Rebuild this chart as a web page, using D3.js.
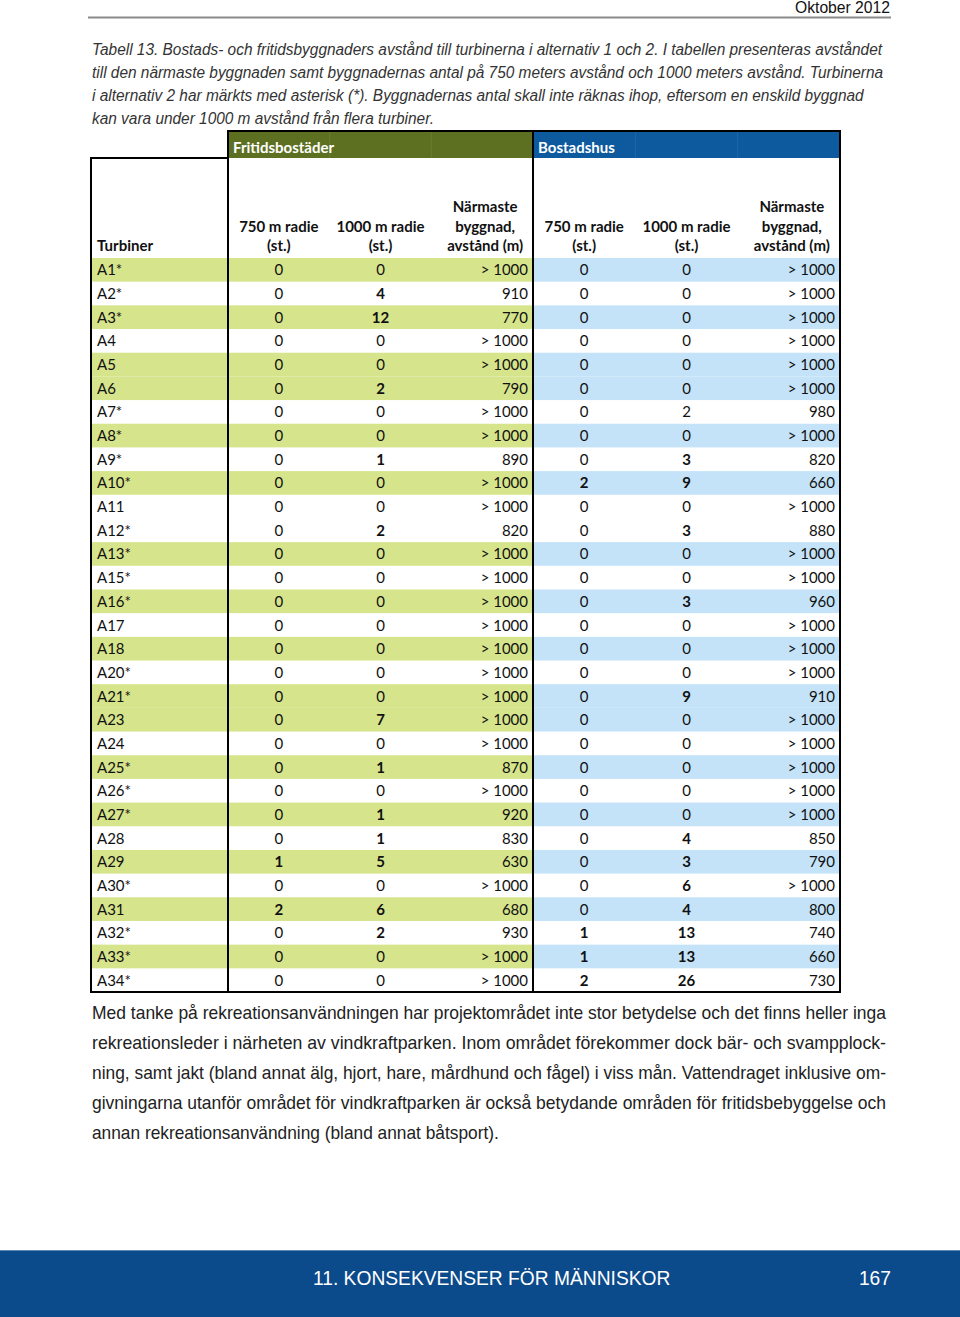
<!DOCTYPE html>
<html>
<head>
<meta charset="utf-8">
<script src="https://cdn.jsdelivr.net/npm/d3@7"></script>
<style>
  html, body { margin: 0; padding: 0; background: #fff; }
  svg { display: block; }
</style>
</head>
<body>
<div id="page"></div>
<script>
/* Tabell 13 – byggnaders avstånd till turbinerna */

var turbines = ['A1*', 'A2*', 'A3*', 'A4', 'A5', 'A6', 'A7*', 'A8*', 'A9*', 'A10*',
  'A11', 'A12*', 'A13*', 'A15*', 'A16*', 'A17', 'A18', 'A20*', 'A21*', 'A23',
  'A24', 'A25*', 'A26*', 'A27*', 'A28', 'A29', 'A30*', 'A31', 'A32*', 'A33*', 'A34*'];

// rows shaded green/blue in the original
var shaded = [1, 0, 1, 0, 1, 1, 0, 1, 0, 1, 0, 0, 1, 0, 1, 0, 1, 0, 1, 1, 0, 1, 0, 1, 0, 1, 0, 1, 0, 1, 0];

var GT = '> 1000';
var fri750 = [0, 0, 0, 0, 0, 0, 0, 0, 0, 0, 0, 0, 0, 0, 0, 0, 0, 0, 0, 0, 0, 0, 0, 0, 0, 1, 0, 2, 0, 0, 0];
var fri1000 = [0, 4, 12, 0, 0, 2, 0, 0, 1, 0, 0, 2, 0, 0, 0, 0, 0, 0, 0, 7, 0, 1, 0, 1, 1, 5, 0, 6, 2, 0, 0];
var friNear = [GT, 910, 770, GT, GT, 790, GT, GT, 890, GT, GT, 820, GT, GT, GT, GT, GT, GT, GT, GT,
  GT, 870, GT, 920, 830, 630, GT, 680, 930, GT, GT];
var bos750 = [0, 0, 0, 0, 0, 0, 0, 0, 0, 2, 0, 0, 0, 0, 0, 0, 0, 0, 0, 0, 0, 0, 0, 0, 0, 0, 0, 0, 1, 1, 2];
var bos1000 = [0, 0, 0, 0, 0, 0, 2, 0, 3, 9, 0, 3, 0, 0, 3, 0, 0, 0, 9, 0, 0, 0, 0, 0, 4, 3, 6, 4, 13, 13, 26];
var bosNear = [GT, GT, GT, GT, GT, GT, 980, GT, 820, 660, GT, 880, GT, GT, 960, GT, GT, GT, 910, GT,
  GT, GT, GT, GT, 850, 790, GT, 800, 740, 660, 730];

// non-zero counts are bold, except this one cell
var plainCells = [['A7*', 'bos1000']];

var groups = ['Fritidsbostäder', 'Bostadshus'];
var colKeys = ['750', '1000', 'near'];
var colHead = {
  '750': ['750 m radie', '(st.)'],
  '1000': ['1000 m radie', '(st.)'],
  'near': ['Närmaste', 'byggnad,', 'avstånd (m)']
};

var captionLines = [
  'Tabell 13. Bostads- och fritidsbyggnaders avstånd till turbinerna i alternativ 1 och 2. I tabellen presenteras avståndet',
  'till den närmaste byggnaden samt byggnadernas antal på 750 meters avstånd och 1000 meters avstånd. Turbinerna',
  'i alternativ 2 har märkts med asterisk (*). Byggnadernas antal skall inte räknas ihop, eftersom en enskild byggnad',
  'kan vara under 1000 m avstånd från flera turbiner.'
];
var bodyLines = [
  'Med tanke på rekreationsanvändningen har projektområdet inte stor betydelse och det finns heller inga',
  'rekreationsleder i närheten av vindkraftparken. Inom området förekommer dock bär- och svampplock-',
  'ning, samt jakt (bland annat älg, hjort, hare, mårdhund och fågel) i viss mån. Vattendraget inklusive om-',
  'givningarna utanför området för vindkraftparken är också betydande områden för fritidsbebyggelse och',
  'annan rekreationsanvändning (bland annat båtsport).'
];

var W = 960, H = 1317;
var PAGE_FONT = '"Liberation Sans", Arial, sans-serif';
var TABLE_FONT = 'Lato, "Open Sans", "Noto Sans", sans-serif';

var svg = d3.select('#page').append('svg')
  .attr('width', W).attr('height', H)
  .attr('viewBox', '0 0 ' + W + ' ' + H);

// the page font is a narrow face; squeeze Liberation Sans to match
function squeeze(sel, ratio, justifyTo) {
  sel.each(function (d, i) {
    var node = this;
    var len = node.getComputedTextLength();
    var target = (justifyTo && justifyTo(d, i)) || len * ratio;
    d3.select(node).attr('textLength', target).attr('lengthAdjust', 'spacingAndGlyphs');
  });
}

/* ---- page header ---- */
svg.append('text')
  .attr('x', 890).attr('y', 13)
  .attr('text-anchor', 'end')
  .attr('font-family', PAGE_FONT).attr('font-size', 16)
  .attr('fill', '#111')
  .text('Oktober 2012')
  .call(squeeze, 0.98);
svg.append('line')
  .attr('x1', 88).attr('x2', 891).attr('y1', 17.5).attr('y2', 17.5)
  .attr('stroke', '#8a8a8a').attr('stroke-width', 2);

/* ---- caption ---- */
svg.append('g').selectAll('text').data(captionLines).join('text')
  .attr('x', 92).attr('y', function (d, i) { return 55 + i * 23; })
  .attr('font-family', PAGE_FONT).attr('font-size', 16)
  .attr('font-style', 'italic')
  .attr('fill', '#333')
  .text(function (d) { return d; })
  .call(squeeze, 0.963);

/* ---- table geometry ---- */
var tLeft = 91, tSplit1 = 228, tSplit2 = 533, tRight = 840;
var bandTop = 131, bandBot = 158, headBot = 258, tBot = 992;

var y = d3.scaleBand().domain(turbines).range([headBot, tBot]).padding(0);
var xFri = d3.scaleBand().domain(colKeys).range([tSplit1, tSplit2]);
var xBos = d3.scaleBand().domain(colKeys).range([tSplit2, tRight]);
var groupX = [xFri, xBos];
var groupColor = ['#5d7022', '#0d5a9e'];
var rowColor = ['#d6e48c', '#c4e3f9'];

var rows = turbines.map(function (t, i) {
  return {
    name: t, shaded: shaded[i],
    vals: [[fri750[i], fri1000[i], friNear[i]], [bos750[i], bos1000[i], bosNear[i]]]
  };
});

/* shaded row bands */
var gRows = svg.append('g');
rows.forEach(function (r) {
  if (!r.shaded) return;
  gRows.append('rect')
    .attr('x', tLeft).attr('y', y(r.name))
    .attr('width', tSplit2 - tLeft).attr('height', y.bandwidth())
    .attr('fill', rowColor[0]);
  gRows.append('rect')
    .attr('x', tSplit2).attr('y', y(r.name))
    .attr('width', tRight - tSplit2).attr('height', y.bandwidth())
    .attr('fill', rowColor[1]);
});

/* group header bands */
groups.forEach(function (g, gi) {
  var sx = groupX[gi];
  svg.append('rect')
    .attr('x', sx.range()[0]).attr('y', bandTop)
    .attr('width', sx.range()[1] - sx.range()[0]).attr('height', bandBot - bandTop)
    .attr('fill', groupColor[gi]);
  // faint cell seams inside the band
  colKeys.slice(1).forEach(function (k) {
    svg.append('line')
      .attr('x1', sx(k)).attr('x2', sx(k)).attr('y1', bandTop).attr('y2', bandBot)
      .attr('stroke', '#ffffff').attr('stroke-opacity', 0.08);
  });
  svg.append('text')
    .attr('x', sx.range()[0] + 5).attr('y', bandTop + 22)
    .attr('font-family', TABLE_FONT).attr('font-size', 15).attr('font-weight', 'bold')
    .attr('fill', '#fff')
    .text(g);
});

/* column headers */
var headBase = 251, headLine = 19.5;
svg.append('text')
  .attr('x', 97).attr('y', headBase)
  .attr('font-family', TABLE_FONT).attr('font-size', 15).attr('font-weight', 'bold')
  .attr('fill', '#111')
  .text('Turbiner');

groupX.forEach(function (sx) {
  colKeys.forEach(function (k) {
    var lines = colHead[k];
    var t = svg.append('text')
      .attr('text-anchor', 'middle')
      .attr('font-family', TABLE_FONT).attr('font-size', 15).attr('font-weight', 'bold')
      .attr('fill', '#111');
    lines.forEach(function (ln, li) {
      t.append('tspan')
        .attr('x', sx(k) + sx.bandwidth() / 2 + (k === 'near' ? 3 : 0))
        .attr('y', headBase - (lines.length - 1 - li) * headLine)
        .text(ln);
    });
  });
});

/* body cells */
function isPlain(name, key) {
  return plainCells.some(function (c) { return c[0] === name && c[1] === key; });
}
var gCells = svg.append('g')
  .attr('font-family', TABLE_FONT).attr('font-size', 15).attr('fill', '#111');
rows.forEach(function (r) {
  var cy = y(r.name) + y.bandwidth() / 2 + 5.5;
  gCells.append('text')
    .attr('x', 97).attr('y', cy)
    .text(r.name);
  r.vals.forEach(function (vals, gi) {
    var sx = groupX[gi];
    var prefix = gi === 0 ? 'fri' : 'bos';
    vals.forEach(function (v, ci) {
      var k = colKeys[ci];
      var near = k === 'near';
      var bold = !near && v !== 0 && !isPlain(r.name, prefix + k);
      gCells.append('text')
        .attr('x', near ? sx(k) + sx.bandwidth() - 5 : sx(k) + sx.bandwidth() / 2)
        .attr('y', cy)
        .attr('text-anchor', near ? 'end' : 'middle')
        .attr('font-weight', bold ? 'bold' : 'normal')
        .text(v);
    });
  });
});

/* table rules */
var rules = [
  [tSplit1, bandTop, tRight, bandTop],
  [tLeft, bandBot, tSplit1, bandBot],
  [tLeft, bandBot, tLeft, tBot],
  [tSplit1, bandTop, tSplit1, tBot],
  [tSplit2, bandTop, tSplit2, tBot],
  [tRight, bandTop, tRight, tBot],
  [tLeft, tBot, tRight, tBot]
];
svg.append('g').selectAll('line').data(rules).join('line')
  .attr('x1', function (d) { return d[0]; }).attr('y1', function (d) { return d[1]; })
  .attr('x2', function (d) { return d[2]; }).attr('y2', function (d) { return d[3]; })
  .attr('stroke', '#000').attr('stroke-width', 2).attr('stroke-linecap', 'square');

/* ---- body paragraph (justified except the last line) ---- */
svg.append('g').selectAll('text').data(bodyLines).join('text')
  .attr('x', 92).attr('y', function (d, i) { return 1019 + i * 30; })
  .attr('font-family', PAGE_FONT).attr('font-size', 18.5)
  .attr('fill', '#222')
  .text(function (d) { return d; })
  .call(squeeze, 0.935, function (d, i) { return i < bodyLines.length - 1 ? 794 : null; });

/* ---- footer ---- */
svg.append('rect')
  .attr('x', 0).attr('y', 1250).attr('width', W).attr('height', H - 1250)
  .attr('fill', '#0b4a8b');
svg.append('line')
  .attr('x1', 0).attr('x2', W).attr('y1', 1250.5).attr('y2', 1250.5)
  .attr('stroke', '#5d86b3').attr('stroke-width', 1);
svg.append('text')
  .attr('x', 313).attr('y', 1285)
  .attr('font-family', PAGE_FONT).attr('font-size', 21)
  .attr('fill', '#fff')
  .text('11. KONSEKVENSER FÖR MÄNNISKOR')
  .call(squeeze, 0.915);
svg.append('text')
  .attr('x', 891).attr('y', 1285)
  .attr('text-anchor', 'end')
  .attr('font-family', PAGE_FONT).attr('font-size', 21)
  .attr('fill', '#fff')
  .text('167')
  .call(squeeze, 0.915);
</script>
</body>
</html>
